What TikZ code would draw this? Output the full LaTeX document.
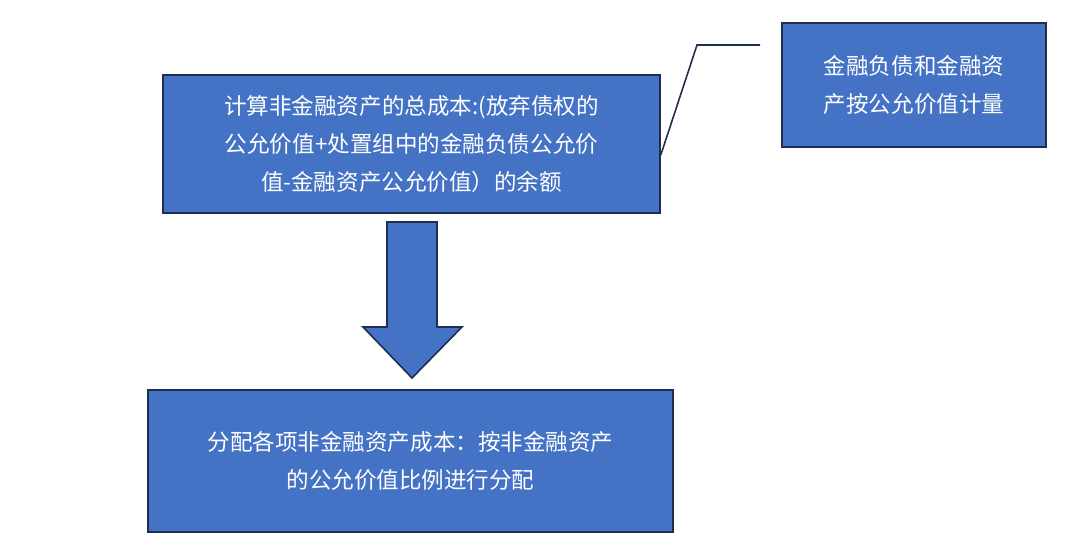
\documentclass[tikz,border=0pt]{standalone}
\usepackage{fontspec}
\newfontfamily\cjk{Noto Sans CJK SC}
\usetikzlibrary{positioning}
\definecolor{boxblue}{HTML}{4472C4}
\definecolor{boxline}{HTML}{1F2D4F}
\tikzset{
	blockbox/.style={draw=boxline, line width=1.2pt, fill=boxblue, text=white, align=center, inner sep=0pt, font=\cjk\fontsize{17}{28.5}\selectfont},
}
\begin{document}
\begin{tikzpicture}[x=0.0265cm, y=-0.0265cm]
		\useasboundingbox (0,0) rectangle (1080,548);
		
		\node[blockbox, minimum width=497*0.0265cm, minimum height=138*0.0265cm] (cost) at (411.5,144) {计算非金融资产的总成本:(放弃债权的\\公允价值+处置组中的金融负债公允价\\值-金融资产公允价值）的余额};
		\node[blockbox, minimum width=264*0.0265cm, minimum height=124*0.0265cm] (fair) at (914,85) {金融负债和金融资\\产按公允价值计量};
		\node[blockbox, minimum width=525*0.0265cm, minimum height=142*0.0265cm] (alloc) at (410.5,461) {分配各项非金融资产成本：按非金融资产\\的公允价值比例进行分配};
		
		% callout line
		\coordinate (bend) at (697,45);
		\coordinate (tail) at (760,45);
		\draw[line width=1.2pt, boxline] (cost.east |- 0,155) -- (bend) -- (tail);
		
		% block arrow
		\draw[line width=1.2pt, draw=boxline, fill=boxblue] (387,222) -- (437,222) -- (437,327) -- (462,327) -- (412,378) -- (363,327) -- (387,327) -- cycle;
	\end{tikzpicture}
\end{document}
